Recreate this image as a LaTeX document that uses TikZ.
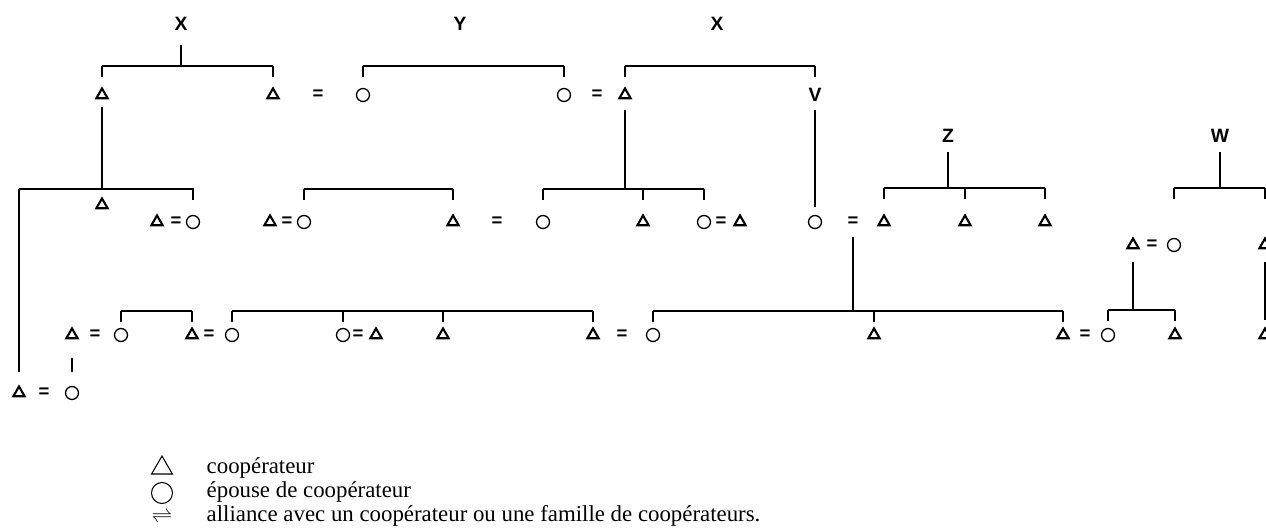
\documentclass[tikz,border=0pt]{standalone}
\usepackage{fontspec}
\setmainfont{Liberation Serif}
\setsansfont{Liberation Sans}
\usetikzlibrary{shapes.geometric}
\tikzset{
coop/.style={regular polygon, regular polygon sides=3, draw, line width=1.2pt, inner sep=0pt, minimum size=0.26cm},
epouse/.style={circle, draw, line width=0.75pt, inner sep=0pt, minimum size=0.26cm},
alliance/.style={inner sep=0pt, font=\sffamily\bfseries\fontsize{10.5}{10}\selectfont},
famille/.style={inner sep=0pt, font=\sffamily\bfseries\fontsize{11}{11}\selectfont},
legende/.style={anchor=base west, inner sep=0pt, font=\fontsize{13}{14}\selectfont},
}
\begin{document}
\begin{tikzpicture}
% 1 unit = 1 pixel of the 1266x530 sheet, y downwards
[x=0.02cm, y=-0.02cm, line width=0.8pt]
\clip (0,0) rectangle (1266,530);
% families
\node[famille] (X1) at (181,24) {X};
\node[famille] (Y) at (460,24) {Y};
\node[famille] (X2) at (717,24) {X};
\node[famille] (Z) at (948,136) {Z};
\node[famille] (W) at (1220,136) {W};
% first generation (95 = row)
\node[coop] (a1) at (102,95) {};
\node[coop] (a2) at (273,95) {};
\node[alliance] (e1) at (318,95) {=};
\node[epouse] (a3) at (363,95) {};
\node[epouse] (a4) at (564,95) {};
\node[alliance] (e2) at (597,95) {=};
\node[coop] (a5) at (625,95) {};
\node[famille] (a6) at (815,95) {V};
% second generation (222 = row)
\node[coop] (b1) at (102,205) {};
\node[coop] (b2) at (157,222) {};
\node[alliance] (e3) at (176,222) {=};
\node[epouse] (b3) at (193,222) {};
\node[coop] (b4) at (270,222) {};
\node[alliance] (e4) at (287,222) {=};
\node[epouse] (b5) at (304,222) {};
\node[coop] (b6) at (453,222) {};
\node[alliance] (e5) at (497,222) {=};
\node[epouse] (b7) at (543,222) {};
\node[coop] (b8) at (643,222) {};
\node[epouse] (b9) at (704,222) {};
\node[alliance] (e6) at (721,222) {=};
\node[coop] (b10) at (740,222) {};
\node[epouse] (b11) at (815,222) {};
\node[alliance] (e7) at (853,222) {=};
\node[coop] (b12) at (884,222) {};
\node[coop] (b13) at (965,222) {};
\node[coop] (b14) at (1045,222) {};
\node[coop] (c1) at (1133,245) {};
\node[alliance] (e8) at (1152,245) {=};
\node[epouse] (c2) at (1174,245) {};
\node[coop] (c3) at (1265,245) {};
% third generation (335 = row)
\node[coop] (d1) at (72,335) {};
\node[alliance] (e9) at (95,335) {=};
\node[epouse] (d2) at (121,335) {};
\node[coop] (d3) at (192,335) {};
\node[alliance] (e10) at (209,335) {=};
\node[epouse] (d4) at (232,335) {};
\node[epouse] (d5) at (343,335) {};
\node[alliance] (e11) at (358,335) {=};
\node[coop] (d6) at (376,335) {};
\node[coop] (d7) at (443,335) {};
\node[coop] (d8) at (593,335) {};
\node[alliance] (e12) at (622,335) {=};
\node[epouse] (d9) at (653,335) {};
\node[coop] (d10) at (874,335) {};
\node[coop] (d11) at (1063,335) {};
\node[alliance] (e13) at (1085,335) {=};
\node[epouse] (d12) at (1108,335) {};
\node[coop] (d13) at (1175,335) {};
\node[coop] (d14) at (1265,335) {};
% fourth generation
\node[coop] (g1) at (19,393) {};
\node[alliance] (e14) at (44,393) {=};
\node[epouse] (g2) at (72,393) {};
% sibling bars: height/first/last/children, ticks 11 long
\foreach \h/\first/\last/\kids in {66/a1/a2/{a1,a2}, 66/a3/a4/{a3,a4}, 66/a5/a6/{a5,a6},
  189/b5/b6/{b5,b6}, 189/b7/b9/{b7,b8,b9}, 188/b12/b14/{b12,b13,b14}, 188/c2/c3/{c2,c3},
  311/d2/d3/{d2,d3}, 311/d4/d8/{d4,d5,d7,d8}, 311/d9/d11/{d9,d10,d11}, 310/d12/d13/{d12,d13}}{
\draw (\first |- 0,\h) -- (\last |- 0,\h);
\foreach \k in \kids
	\draw (\k |- 0,\h) -- ++(0,11);
}
\draw (g1 |- 0,189) -- (b3 |- 0,189) -- ++(0,11);
\draw (g1 |- 0,189) -- (g1 |- 0,372);
% descent lines
\draw (X1) ++(0,21) -- (X1 |- 0,66);
\draw (Z) ++(0,16) -- (Z |- 0,188);
\draw (W) ++(0,16) -- (W |- 0,188);
\draw (a1) ++(0,12) -- (a1 |- 0,189);
\draw (a5) ++(0,15) -- (a5 |- 0,189);
\draw (a6) ++(0,15) -- (b11 |- 0,207);
\draw (e7) ++(0,15) -- (e7 |- 0,311);
\draw (c1) ++(0,17) -- (c1 |- 0,310);
\draw (c3) ++(0,17) -- (d14 |- 0,320);
\draw (d1) ++(0,23) -- (g2 |- 0,372);
% legend
\node[coop, line width=0.6pt, minimum size=0.48cm] (k1) at (162,468) {};
\node[epouse, line width=0.6pt, minimum size=0.42cm] (k2) at (162,493) {};
\node[inner sep=0pt, font=\fontsize{12}{12}\selectfont] (k3) at (162,517) {$\rightleftharpoons$};
\node[legende] (t1) at (206,473) {coopérateur};
\node[legende] (t2) at (206,497) {épouse de coopérateur};
\node[legende] (t3) at (206,521) {alliance avec un coopérateur ou une famille de coopérateurs.};
\end{tikzpicture}
\end{document}
